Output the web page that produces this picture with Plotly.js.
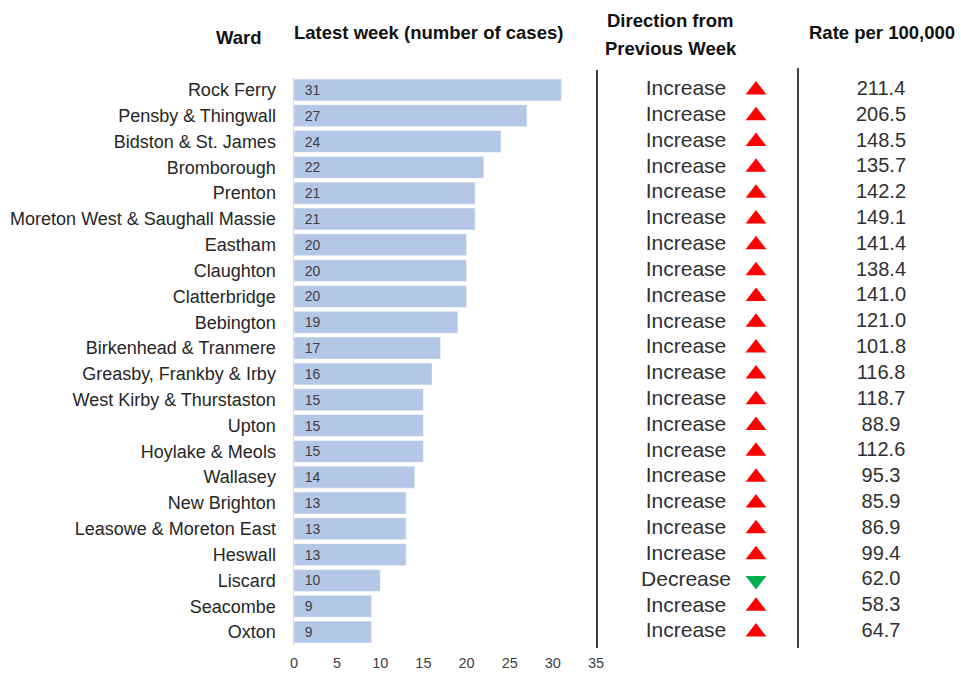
<!DOCTYPE html>
<html><head><meta charset="utf-8">
<script src="https://cdn.plot.ly/plotly-3.0.1.min.js"></script>
<style>body{margin:0;background:#fff}#c{width:961px;height:674px}</style>
</head><body><div id="c"></div>
<script>
const wards = ["Rock Ferry","Pensby & Thingwall","Bidston & St. James","Bromborough","Prenton","Moreton West & Saughall Massie","Eastham","Claughton","Clatterbridge","Bebington","Birkenhead & Tranmere","Greasby, Frankby & Irby","West Kirby & Thurstaston","Upton","Hoylake & Meols","Wallasey","New Brighton","Leasowe & Moreton East","Heswall","Liscard","Seacombe","Oxton"];
const cases = [31,27,24,22,21,21,20,20,20,19,17,16,15,15,15,14,13,13,13,10,9,9];
const direction = ["Increase","Increase","Increase","Increase","Increase","Increase","Increase","Increase","Increase","Increase","Increase","Increase","Increase","Increase","Increase","Increase","Increase","Increase","Increase","Decrease","Increase","Increase"];
const rates = [211.4,206.5,148.5,135.7,142.2,149.1,141.4,138.4,141.0,121.0,101.8,116.8,118.7,88.9,112.6,95.3,85.9,86.9,99.4,62.0,58.3,64.7];
const xTicks = [0,5,10,15,20,25,30,35];
const headerWard = "Ward";
const headerCases = "Latest week (number of cases)";
const headerDir1 = "Direction from";
const headerDir2 = "Previous Week";
const headerRate = "Rate per 100,000";

const L=294, W=667, T=77, H=568;
const px = x => (x-L)/W, py = y => (T+H-y)/H;
const FONT = "Liberation Sans, Arial, sans-serif";

const traces = [
  {type:'bar', orientation:'h', y:wards, x:cases, xaxis:'x', yaxis:'y',
   marker:{color:'#B4C7E7', line:{color:'#ffffff', width:0.5}},
   text:cases.map(String), texttemplate:'\u00a0\u00a0%{text}', textposition:'inside', insidetextanchor:'start', textangle:0,
   textfont:{family:FONT, size:14, color:'#404040'}, hoverinfo:'skip', width:0.85},
  {type:'scatter', mode:'text', xaxis:'x2', yaxis:'y', y:wards, x:wards.map(()=>686),
   text:direction, textfont:{family:FONT, size:21, color:'#303030'}, hoverinfo:'skip', cliponaxis:false},
  {type:'scatter', mode:'markers', xaxis:'x2', yaxis:'y', y:wards, x:wards.map(()=>756),
   marker:{symbol:direction.map(d=>d==="Increase"?'triangle-up':'triangle-down'), size:18,
     color:direction.map(d=>d==="Increase"?'#FF0000':'#00B050'), line:{width:0}}, hoverinfo:'skip', cliponaxis:false},
  {type:'scatter', mode:'text', xaxis:'x2', yaxis:'y', y:wards, x:wards.map(()=>881),
   text:rates.map(r=>r.toFixed(1)), textfont:{family:FONT, size:20, color:'#303030'}, hoverinfo:'skip', cliponaxis:false}
];

const layout = {
  width:961, height:674, paper_bgcolor:'#fff', plot_bgcolor:'rgba(0,0,0,0)',
  margin:{l:L, r:0, t:T, b:674-T-H}, showlegend:false,
  xaxis:{domain:[0,(596-L)/W], range:[0,35], tickvals:xTicks, showgrid:false, zeroline:false,
    showline:false, ticks:'', ticklabelstandoff:7, tickfont:{family:FONT, size:14.5, color:'#404040'}, fixedrange:true},
  xaxis2:{domain:[(596-L)/W,1], range:[596,961], visible:false, anchor:'y', fixedrange:true},
  yaxis:{type:'category', range:[wards.length-0.5,-0.5], showgrid:false, zeroline:false, showline:true,
    linecolor:'#D9D9D9', linewidth:1.5, ticks:'', ticklabelstandoff:13,
    tickfont:{family:FONT, size:18, color:'#262626'}, fixedrange:true},
  shapes:[
    {type:'line', xref:'paper', yref:'paper', x0:px(597), x1:px(597), y0:py(648), y1:py(70), line:{color:'#000', width:1.5}},
    {type:'line', xref:'paper', yref:'paper', x0:px(798), x1:px(798), y0:py(648), y1:py(68), line:{color:'#000', width:1.5}}
  ],
  annotations:[
    {text:'<b>'+headerWard+'</b>', x:px(239), y:py(37)},
    {text:'<b>'+headerCases+'</b>', x:px(428), y:py(32)},
    {text:'<b>'+headerDir1+'</b>', x:px(670), y:py(21)},
    {text:'<b>'+headerDir2+'</b>', x:px(671), y:py(48)},
    {text:'<b>'+headerRate+'</b>', x:px(882), y:py(32)}
  ].map(a=>Object.assign({xref:'paper', yref:'paper', showarrow:false, xanchor:'center', yanchor:'middle',
     font:{family:FONT, size:18.5, color:'#111'}}, a))
};
Plotly.newPlot('c', traces, layout, {displayModeBar:false, staticPlot:true});
</script></body></html>
